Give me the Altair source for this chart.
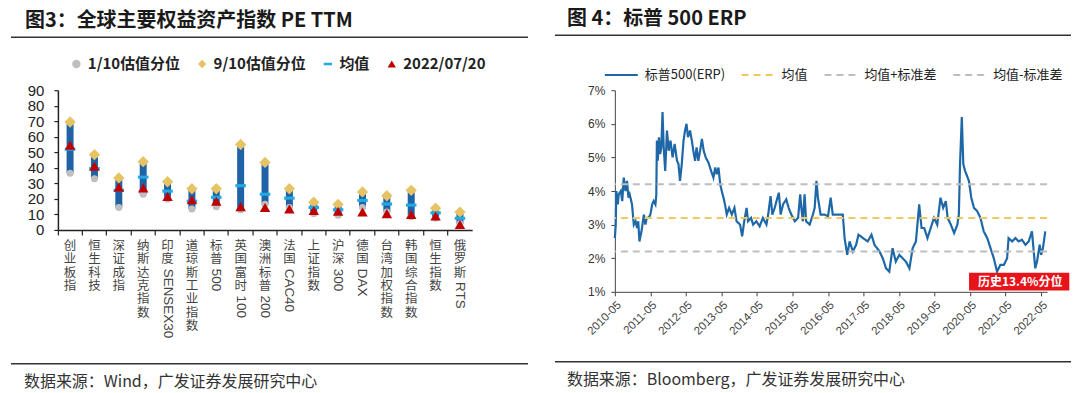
import re
import altair as alt
import pandas as pd

# ---------------- Left chart data (图3) ----------------
CATEGORIES = ["创业板指", "恒生科技", "深证成指", "纳斯达克指数", "印度SENSEX30",
              "道琼斯工业指数", "标普500", "英国富时100", "澳洲标普200", "法国CAC40",
              "上证指数", "沪深300", "德国DAX", "台湾加权指数", "韩国综合指数",
              "恒生指数", "俄罗斯RTS"]
P10 = [36.5, 33.0, 14.5, 23.0, 20.0, 13.5, 15.0, 13.0, 16.5, 14.5, 10.5, 9.5, 14.5, 11.5, 8.5, 7.5, 4.0]
P90 = [69.5, 48.5, 33.5, 44.0, 31.0, 26.5, 26.5, 55.0, 43.5, 26.5, 17.8, 16.5, 24.5, 22.0, 25.5, 14.0, 11.5]
MEAN = [52.0, 39.5, 25.5, 34.0, 25.0, 18.5, 21.0, 28.5, 23.0, 20.5, 14.5, 13.0, 19.0, 16.7, 16.0, 11.0, 7.5]
CURRENT = [54.5, 41.0, 27.5, 27.0, 21.5, 19.5, 18.5, 15.0, 14.5, 13.5, 12.5, 12.0, 11.5, 10.5, 10.0, 9.0, 3.5]
SERIES_L = ["1/10估值分位", "9/10估值分位", "均值", "2022/07/20"]
COLORS_L = ["#bfbfbf", "#e6c466", "#22a8e2", "#c00000"]
SHAPES_L = ["circle", "diamond", "M-1,-0.3H1V0.3H-1Z", "triangle-up"]
SIZES_L = [50, 130, 110, 110]

# ---------------- Right chart data (图4) ----------------
ERP_MONTHS = [0, 0.3, 0.5, 1.0, 1.3, 2.0, 2.5, 3.0, 3.6, 4.1, 4.6, 5.0, 5.8, 6.4, 7.0, 7.5, 7.9,
              8.3, 9.0, 9.8, 10.3, 10.8, 11.4, 12.0, 12.6, 13.1, 13.7, 14.0, 14.2, 14.5, 14.9,
              15.3, 15.7, 16.1, 16.5, 17.0, 17.6, 18.2, 18.8, 19.5, 20.2, 21.0, 21.5, 22.0,
              22.6, 23.2, 23.7, 24.2, 24.7, 25.4, 26.0, 26.5, 27.1, 27.6, 28.2, 28.8, 29.4,
              30.0, 30.7, 31.6, 32.5, 33.3, 33.9, 34.4, 35.0, 35.6, 36.1, 36.7, 37.2, 37.8,
              38.6, 39.5, 40.4, 41.1, 42.3, 43.0, 43.7, 44.5, 45.0, 46.0, 46.7, 47.8, 48.9,
              50.0, 51.2, 51.8, 52.6, 53.2, 54.0, 54.6, 55.4, 56.0, 56.8, 57.9, 58.7, 59.6,
              60.8, 61.9, 62.6, 63.0, 63.5, 64.1, 64.6, 65.8, 66.9, 67.5, 68.1, 68.6, 69.5,
              70.8, 72.0, 72.9, 73.6, 75.3, 77.0, 77.6, 78.5, 79.3, 80.4, 81.5, 82.3, 83.8,
              85.4, 86.7, 87.7, 89.4, 90.5, 91.6, 92.7, 93.8, 94.9, 96.1, 97.2, 98.3, 99.5,
              100.6, 101.7, 102.8, 103.6, 104.5, 105.6, 106.7, 107.8, 108.9, 110.0, 110.9,
              111.8, 112.4, 113.5, 114.6, 115.7, 116.2, 116.6, 117.2, 117.7, 118.3, 119.6,
              120.4, 121.3, 122.4, 123.5, 124.6, 125.8, 126.9, 128.0, 129.1, 130.2, 131.4,
              132.5, 133.0, 134.2, 135.3, 136.4, 137.5, 138.7, 139.8, 140.9, 141.5, 142.0,
              142.6, 143.5, 144.0, 144.6, 145.4]
ERP_VALUES = [2.6, 3.0, 4.0, 3.6, 3.9, 4.0, 3.7, 4.4, 4.0, 4.3, 3.8, 3.9, 3.6, 3.0, 3.1, 2.9, 3.1,
              2.5, 2.8, 3.3, 3.0, 3.2, 3.2, 3.3, 3.6, 3.7, 3.6, 3.9, 5.5, 4.9, 5.6,
              5.1, 5.3, 6.35, 5.3, 4.6, 5.8, 5.2, 5.5, 5.0, 5.4, 4.9, 4.8, 4.3,
              4.8, 5.5, 5.8, 6.0, 5.6, 5.8, 5.5, 5.2, 4.9, 5.3, 4.9, 5.2, 5.55,
              5.2, 5.0, 4.85, 4.6, 4.4, 4.7, 4.5, 4.7, 4.2, 4.0, 3.8, 3.6, 3.3,
              3.5, 3.3, 3.5, 3.1, 3.0, 2.65, 3.1, 3.5, 3.1, 3.2, 3.0, 3.1, 2.95,
              3.2, 3.0, 3.3, 3.85, 3.3, 3.5, 3.7, 3.95, 3.3, 3.6, 3.75, 3.5, 3.3,
              3.1, 3.2, 3.9, 3.5, 3.1, 3.9, 3.1, 3.0, 3.3, 3.5, 4.3, 3.8, 3.3,
              3.3, 3.25, 3.8, 3.3, 3.3, 3.3, 2.6, 2.1, 2.5, 2.2, 2.4, 2.7, 2.6,
              2.5, 2.7, 2.4, 2.2, 2.0, 1.7, 1.6, 2.3, 1.9, 2.1, 2.0, 1.9, 1.7,
              2.3, 2.5, 3.6, 2.9, 2.9, 2.6, 2.9, 3.2, 3.0, 3.8, 3.5,
              3.7, 3.2, 3.0, 2.75, 3.0, 3.3, 4.8, 6.2, 4.8, 4.6, 4.3,
              3.8, 3.5, 3.4, 3.2, 2.8, 2.6, 2.3, 2.0, 1.6, 1.8, 1.8,
              2.0, 2.6, 2.5, 2.6, 2.5, 2.55, 2.4, 2.5, 2.8, 2.2, 1.7,
              1.9, 2.4, 2.1, 2.3, 2.8]
ERP_START = "2010-05-01"
ERP_MEAN = 3.2
ERP_STD = 1.0
SERIES_R = ["标普500(ERP)", "均值", "均值+标准差", "均值-标准差"]
COLORS_R = ["#1f68a8", "#f0c860", "#bdbdbd", "#bdbdbd"]
DASHES_R = [[1, 0], [7, 5], [7, 5], [7, 5]]
TICK_YEARS = list(range(2010, 2023))
ANNOT_TEXT = "历史13.4%分位"
ANNOT_START = ["2020-04-20"]
ANNOT_END = ["2023-02-15"]
ANNOT_LO = [1.04]
ANNOT_HI = [1.57]

TITLE_L = "图3：全球主要权益资产指数 PE TTM"
TITLE_R = "图 4：标普 500 ERP"
SOURCE_L = "数据来源：Wind，广发证券发展研究中心"
SOURCE_R = "数据来源：Bloomberg，广发证券发展研究中心"

FONT = "Noto Sans CJK SC"
LAT = "Liberation Sans"
W1, H1 = 415, 140
W2, H2 = 433, 202

one = pd.DataFrame({"k": [0]})


def txt(text, x, y, size, weight="normal", color="#222"):
    return alt.Chart(one).mark_text(
        text=text, align="left", baseline="middle", font=FONT, fontSize=size,
        fontWeight=weight, color=color
    ).encode(x=alt.value(x), y=alt.value(y))


def hline(x1, x2, y, opacity=1):
    return alt.Chart(one).mark_rule(color="#333333", strokeWidth=1.5, opacity=opacity).encode(
        x=alt.value(x1), x2=alt.value(x2), y=alt.value(y))


# ---------------- Left panel ----------------
rows = []
for c, a, b in zip(CATEGORIES, P10, P90):
    m = re.match(r"([\u4e00-\u9fff]+)(.*)", c)
    cn, lat = m.group(1), m.group(2)
    rows.append({"cat": c, "lo": a, "hi": b, "cn": "\n".join(cn), "lat": lat, "ncn": len(cn)})
bars_df = pd.DataFrame(rows)

pt_rows = []
for s, vals in zip(SERIES_L, [P10, P90, MEAN, CURRENT]):
    for c, v in zip(CATEGORIES, vals):
        pt_rows.append({"cat": c, "series_l": s, "val": v})
pts_df = pd.DataFrame(pt_rows)

xL = alt.X("cat:N", sort=CATEGORIES,
           scale=alt.Scale(type="band", domain=CATEGORIES, paddingInner=0, paddingOuter=0),
           axis=alt.Axis(title=None, labels=False, bandPosition=0, tickSize=5, grid=False,
                         domainColor="#222", tickColor="#222", domainWidth=1.5, tickWidth=1.2))
yScaleL = alt.Scale(domain=[0, 90], nice=False)
yAxisL = alt.Axis(title=None, values=list(range(0, 91, 10)), tickCount=20, grid=False,
                  labelFont=LAT, labelFontSize=15, labelColor="#222", tickSize=4,
                  domainColor="#222", tickColor="#222", domainWidth=1.5, tickWidth=1.2,
                  labelPadding=10)
legL = alt.Legend(title=None, orient="none", legendX=11, legendY=-34, direction="horizontal",
                  labelFont=FONT, labelFontSize=15, labelFontWeight="bold", labelColor="#222",
                  symbolSize=70, columnPadding=14, labelOffset=4, symbolStrokeWidth=0)

bars = alt.Chart(bars_df).mark_bar(size=7, color="#1f63a6").encode(
    x=xL, y=alt.Y("lo:Q", scale=yScaleL, axis=yAxisL), y2="hi:Q")

point_layers = []
for s, sz in zip(SERIES_L, SIZES_L):
    point_layers.append(
        alt.Chart(pts_df).transform_filter(alt.datum.series_l == s)
        .mark_point(filled=True, opacity=1, size=sz, strokeWidth=0)
        .encode(
            x=xL, y=alt.Y("val:Q", scale=yScaleL, axis=yAxisL),
            shape=alt.Shape("series_l:N", scale=alt.Scale(domain=SERIES_L, range=SHAPES_L), legend=legL),
            color=alt.Color("series_l:N", scale=alt.Scale(domain=SERIES_L, range=COLORS_L), legend=legL),
        )
    )

LINE_H = 13.4
cn_labels = alt.Chart(bars_df).mark_text(
    align="center", baseline="top", lineBreak="\n", lineHeight=LINE_H, font=FONT,
    fontSize=12.5, color="#444"
).encode(x=xL, y=alt.value(H1 + 10), text="cn:N")

lat_layers = []
for n in sorted(set(r["ncn"] for r in rows if r["lat"])):
    lat_layers.append(
        alt.Chart(bars_df).transform_filter(f"datum.ncn == {n} && datum.lat != ''")
        .mark_text(angle=90, align="left", baseline="middle", font=LAT, fontSize=13.5, color="#444")
        .encode(x=xL, y=alt.value(H1 + 10 + n * LINE_H + 2), text="lat:N")
    )

left = alt.layer(
    hline(-47, 471, -80, 0),
    hline(-47, 471, -53),
    txt(TITLE_L, -33, -69, 20, "bold", "#1a1a1a"),
    bars, *point_layers, cn_labels, *lat_layers,
    hline(-47, 471, 274),
    txt(SOURCE_L, -34, 292, 16, "normal", "#333"),
    hline(-47, 471, 303, 0),
).properties(width=W1, height=H1)

# ---------------- Right panel ----------------
base = pd.Timestamp(ERP_START)
erp_df = pd.DataFrame({
    "date": [(base + pd.Timedelta(days=m * 30.44)).strftime("%Y-%m-%dT%H:%M:%S") for m in ERP_MONTHS],
    "erp": ERP_VALUES,
    "series_r": SERIES_R[0],
})
ref_df = pd.DataFrame({"series_r": SERIES_R[1:],
                       "erp": [ERP_MEAN, ERP_MEAN + ERP_STD, ERP_MEAN - ERP_STD]})
annot_df = pd.DataFrame({"start": ANNOT_START, "end": ANNOT_END, "lo": ANNOT_LO, "hi": ANNOT_HI,
                         "label": [ANNOT_TEXT]})
annot_df["mid"] = (annot_df["lo"] + annot_df["hi"]) / 2

xR = alt.X("date:T",
           scale=alt.Scale(domain=[alt.DateTime(year=2010, month=5, date=1),
                                   alt.DateTime(year=2022, month=7, date=1)]),
           axis=alt.Axis(title=None, values=[alt.DateTime(year=y, month=5, date=1) for y in TICK_YEARS],
                         tickCount=40, format="%Y-%m", labelAngle=-45, labelFont=LAT,
                         labelFontSize=11.5, labelColor="#444", tickSize=4, grid=False,
                         domainColor="#444", tickColor="#444", labelPadding=3, labelOverlap=False))
yScaleR = alt.Scale(domain=[1, 7], nice=False)
yAxisR = alt.Axis(title=None, values=[1, 2, 3, 4, 5, 6, 7], tickCount=20,
                  labelExpr="datum.value + '%'", grid=False, labelFont=LAT, labelFontSize=12,
                  labelColor="#333", tickSize=4, domainColor="#444", tickColor="#444",
                  labelPadding=6, labelOverlap=False)
legR = alt.Legend(title=None, orient="none", legendX=-11, legendY=-33, direction="horizontal",
                  labelFont=FONT, labelFontSize=13, labelColor="#222", symbolType="stroke",
                  symbolSize=1089, symbolStrokeWidth=2, columnPadding=12, labelOffset=6)
colR = alt.Scale(domain=SERIES_R, range=COLORS_R)
dashR = alt.Scale(domain=SERIES_R, range=DASHES_R)

erp_line = alt.Chart(erp_df).mark_line(strokeWidth=2.2).encode(
    x=xR, y=alt.Y("erp:Q", scale=yScaleR, axis=yAxisR),
    color=alt.Color("series_r:N", scale=colR, legend=legR),
    strokeDash=alt.StrokeDash("series_r:N", scale=dashR, legend=legR),
)
ref_lines = alt.Chart(ref_df).mark_rule(strokeWidth=2).encode(
    y=alt.Y("erp:Q", scale=yScaleR, axis=yAxisR),
    color=alt.Color("series_r:N", scale=colR, legend=legR),
    strokeDash=alt.StrokeDash("series_r:N", scale=dashR, legend=legR),
)
annot_box = alt.Chart(annot_df).mark_rect(color="#e8141b").encode(
    x=alt.X("start:T"), x2="end:T", y=alt.Y("lo:Q"), y2="hi:Q")
annot_txt = alt.Chart(annot_df).mark_text(
    align="left", baseline="middle", dx=9, font=FONT, fontSize=12, fontWeight="bold", color="white"
).encode(x=alt.X("start:T"), y=alt.Y("mid:Q"), text="label:N")

right = alt.layer(
    hline(-60, 457, -82, 0),
    hline(-60, 457, -55),
    txt(TITLE_R, -48, -71, 20, "bold", "#1a1a1a"),
    erp_line, ref_lines, annot_box, annot_txt,
    hline(-60, 457, 272),
    txt(SOURCE_R, -48, 290, 16, "normal", "#333"),
    hline(-60, 457, 301, 0),
).properties(width=W2, height=H2)

chart = alt.hconcat(left, right, spacing=25).resolve_scale(
    color="independent", shape="independent", strokeDash="independent",
    x="independent", y="independent"
).configure(
    padding={"left": 2, "top": 0, "right": 0, "bottom": 0}
).configure_view(stroke=None)

chart.save("out.html", embed_options={"renderer": "svg", "actions": False})
